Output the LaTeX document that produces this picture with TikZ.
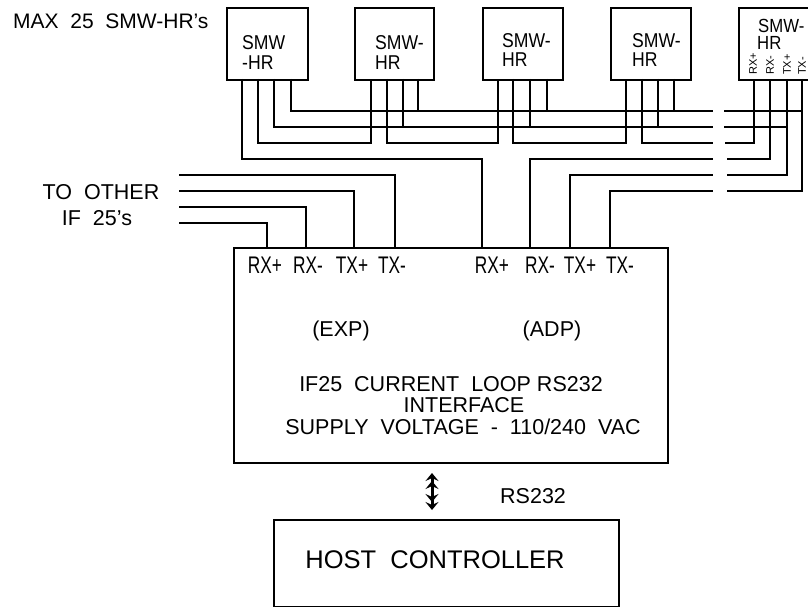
\documentclass[tikz,border=0pt]{standalone}
\usepackage{fontspec}
\usepackage{graphicx}
\setmainfont{Liberation Sans}
\usetikzlibrary{arrows.meta}
\newcommand\condpin[1]{\scalebox{0.72}[1]{#1}}
\newcommand\condbox[1]{\scalebox{0.88}[1]{#1}}
\begin{document}
\begin{tikzpicture}[x=1pt,y=-1pt,
  box/.style={draw, line width=1.8pt, inner sep=0pt, anchor=north west},
  wire/.style={line width=2.2pt, line cap=butt, line join=miter},
  thinwire/.style={line width=1.6pt, line join=miter},
  txt/.style={inner sep=0pt, font=\fontsize{21.5}{24}\selectfont},
  boxtxt/.style={inner sep=0pt, anchor=base west, font=\fontsize{20}{22}\selectfont},
  pintxt/.style={inner sep=0pt, anchor=base, font=\fontsize{24}{26}\selectfont},
  rotpin/.style={inner sep=0pt, rotate=90, anchor=west, font=\fontsize{11}{12}\selectfont},
  dblarrow/.style={line width=3pt,
    {Stealth[length=8pt,width=13pt,inset=3pt] Stealth[length=8pt,width=13pt,inset=3pt]}-{Stealth[length=8pt,width=13pt,inset=3pt] Stealth[length=8pt,width=13pt,inset=3pt]}}
]
\path[use as bounding box, clip] (0,0) rectangle (808,607);

% ---------- SMW-HR boxes ----------
\node[box, minimum width=81pt, minimum height=72pt] (b1) at (226,7) {};
\node[box, minimum width=79pt, minimum height=72pt] (b2) at (354,7) {};
\node[box, minimum width=80pt, minimum height=72pt] (b3) at (482,7) {};
\node[box, minimum width=80pt, minimum height=72pt] (b4) at (610,7) {};
\node[box, minimum width=100pt, minimum height=72pt] (b5) at (738,7) {};

\node[txt, anchor=base west, font=\fontsize{21}{24}\selectfont] (maxlbl) at (13,29) {MAX\ \ 25\ \ SMW-HR's};

\node[boxtxt] (b1t1) at (242,50) {\condbox{SMW}};
\node[boxtxt] (b1t2) at (242,70) {\condbox{-HR}};
\node[boxtxt] (b2t1) at (375,50) {\condbox{SMW-}};
\node[boxtxt] (b2t2) at (375,70) {\condbox{HR}};
\node[boxtxt] (b3t1) at (502,48) {\condbox{SMW-}};
\node[boxtxt] (b3t2) at (502,67) {\condbox{HR}};
\node[boxtxt] (b4t1) at (632,48) {\condbox{SMW-}};
\node[boxtxt] (b4t2) at (632,67) {\condbox{HR}};
\node[boxtxt, font=\fontsize{19}{21}\selectfont] (b5t1) at (758,33) {\condbox{SMW-}};
\node[boxtxt, font=\fontsize{19}{21}\selectfont] (b5t2) at (757,50) {\condbox{HR}};

% pins (a=RX+, b=RX-, c=TX+, d=TX-)
\coordinate (b1a) at (242,79); \coordinate (b1b) at (258,79); \coordinate (b1c) at (274,79); \coordinate (b1d) at (291,79);
\coordinate (b2a) at (371,79); \coordinate (b2b) at (387,79); \coordinate (b2c) at (403,79); \coordinate (b2d) at (418,79);
\coordinate (b3a) at (498,79); \coordinate (b3b) at (513,79); \coordinate (b3c) at (530,79); \coordinate (b3d) at (547,79);
\coordinate (b4a) at (626,79); \coordinate (b4b) at (642,79); \coordinate (b4c) at (658,79); \coordinate (b4d) at (674,79);
\coordinate (b5a) at (754,79); \coordinate (b5b) at (770,79); \coordinate (b5c) at (787,79); \coordinate (b5d) at (802,79);

\node[rotpin] (b5la) at (753,75) {RX+};
\node[rotpin] (b5lb) at (770,75) {RX-};
\node[rotpin] (b5lc) at (787,75) {TX+};
\node[rotpin] (b5ld) at (802,75) {TX-};

% ---------- IF25 box ----------
\node[box, line width=1.5pt, minimum width=434pt, minimum height=215pt] (if25) at (233,247) {};
\coordinate (ifLrxp) at (267,247); \coordinate (ifLrxm) at (306,247);
\coordinate (ifLtxp) at (354,247); \coordinate (ifLtxm) at (395,247);
\coordinate (ifRrxp) at (482,247); \coordinate (ifRrxm) at (530,247);
\coordinate (ifRtxp) at (570,247); \coordinate (ifRtxm) at (610,247);

\node[pintxt] (lLrxp) at (265,273) {\condpin{RX+}};
\node[pintxt] (lLrxm) at (308,273) {\condpin{RX-}};
\node[pintxt] (lLtxp) at (352,273) {\condpin{TX+}};
\node[pintxt] (lLtxm) at (392,273) {\condpin{TX-}};
\node[pintxt] (lRrxp) at (492,273) {\condpin{RX+}};
\node[pintxt] (lRrxm) at (540,273) {\condpin{RX-}};
\node[pintxt] (lRtxp) at (580,273) {\condpin{TX+}};
\node[pintxt] (lRtxm) at (620,273) {\condpin{TX-}};

\node[txt, anchor=base] (exp) at (341,336) {(EXP)};
\node[txt, anchor=base] (adp) at (552,336) {(ADP)};
\node[txt, anchor=base] (l1) at (451,391) {IF25\ \ CURRENT\ \ LOOP RS232};
\node[txt, anchor=base] (l2) at (464,412) {INTERFACE};
\node[txt, anchor=base] (l3) at (463,434) {SUPPLY\ \ VOLTAGE\ \ -\ \ 110/240\ \ VAC};

% ---------- Host ----------
\node[box, line width=1.6pt, minimum width=345pt, minimum height=87pt] (host) at (273,519) {};
\node[txt, anchor=base, font=\fontsize{25.5}{28}\selectfont] (hostt) at (435,568) {HOST\ \ CONTROLLER};
\node[txt, anchor=base west] (rs) at (500,503) {RS232};
\coordinate (arrT) at (432,473);
\coordinate (arrB) at (432,510);
\draw[dblarrow] (arrT) -- (arrB);

% ---------- To other IF25s ----------
\node[txt, anchor=base] (toother1) at (101,199) {TO\ \ OTHER};
\node[txt, anchor=base] (toother2) at (97,225) {IF\ \ 25's};
\coordinate (o1) at (179,175); \coordinate (o2) at (179,191);
\coordinate (o3) at (179,207); \coordinate (o4) at (179,223);
\draw[wire] (o1) -| (ifLtxm);
\draw[wire] (o2) -| (ifLtxp);
\draw[wire] (o3) -| (ifLrxm);
\draw[wire] (o4) -| (ifLrxp);

% ---------- bus rows ----------
\coordinate (txmL) at (713,111); \coordinate (txmR) at (724,111);
\coordinate (txpL) at (713,127); \coordinate (txpR) at (724,127);
\coordinate (rxL) at (713,143);  \coordinate (rxR) at (725,143);
\coordinate (rxm4L) at (713,159); \coordinate (rxm4R) at (727,159);
\coordinate (txp5L) at (713,175); \coordinate (txp5R) at (727,175);
\coordinate (txm6L) at (713,191); \coordinate (txm6R) at (727,191);

% TX- bus
\draw[wire] (b1d) |- (txmL);
\draw[wire] (b2d) -- (b2d |- txmL);
\draw[wire] (b3d) -- (b3d |- txmL);
\draw[wire] (b4d) -- (b4d |- txmL);
\draw[wire] (txmR) -- (txmR -| b5d);
\draw[wire] (b5d) |- (txm6R);
\draw[thinwire] (ifRtxm) |- (txm6L);

% TX+ bus
\draw[wire] (b1c) |- (txpL);
\draw[wire] (b2c) -- (b2c |- txpL);
\draw[wire] (b3c) -- (b3c |- txpL);
\draw[wire] (b4c) -- (b4c |- txpL);
\draw[wire] (txpR) -- (txpR -| b5c);
\draw[wire] (b5c) |- (txp5R);
\draw[thinwire] (ifRtxp) |- (txp5L);

% RX daisy chain
\draw[wire] (b1b) -- (b1b |- rxL) -| (b2a);
\draw[wire] (b2b) -- (b2b |- rxL) -| (b3a);
\draw[wire] (b3b) -- (b3b |- rxL) -| (b4a);
\draw[wire] (b4b) -- (b4b |- rxL) -- (rxL);
\draw[wire] (rxR) -| (b5a);

% RX+ / RX- to IF25
\draw[wire] (b1a) -- (b1a |- rxm4L) -| (ifRrxp);
\draw[wire] (ifRrxm) |- (rxm4L);
\draw[wire] (rxm4R) -| (b5b);
\end{tikzpicture}
\end{document}
